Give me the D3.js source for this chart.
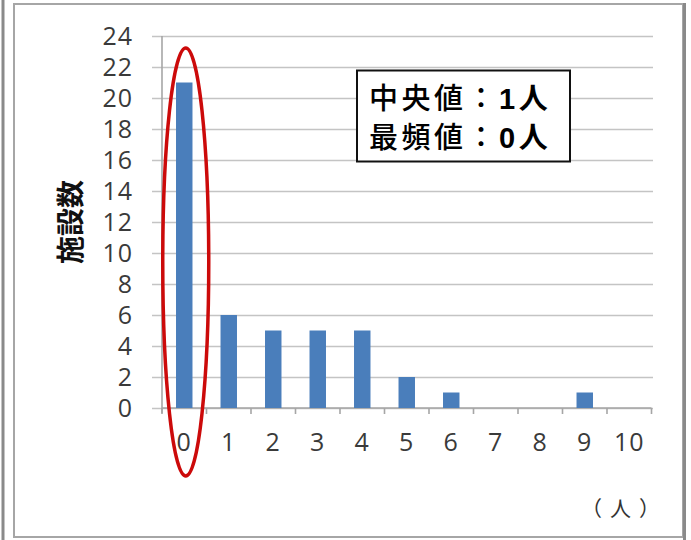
<!DOCTYPE html>
<html>
<head>
<meta charset="utf-8">
<script src="https://cdn.jsdelivr.net/npm/d3@7"></script>
<style>
  html, body { margin: 0; padding: 0; background: #fff; }
  svg { display: block; }
</style>
</head>
<body>
<svg id="chart" width="691" height="540"></svg>
<script>
// Number of staff per facility (人) and how many facilities (施設数) have that count
const categories = ["0", "1", "2", "3", "4", "5", "6", "7", "8", "9", "10"];
const facilityCounts = [21, 6, 5, 5, 5, 2, 1, 0, 0, 1, 0];
const yTicks = [0, 2, 4, 6, 8, 10, 12, 14, 16, 18, 20, 22, 24];
const yTitle = "施設数";
const xUnit = "（人）";
const summaryLines = [
  { label: "中央値：", value: "1", unit: "人" },
  { label: "最頻値：", value: "0", unit: "人" }
];
const highlighted = "0";

const svg = d3.select("#chart");
const tickFont = "'Open Sans', 'Liberation Sans', sans-serif";
const cjkFont = "'Noto Sans CJK JP', sans-serif";

// outer frame
svg.append("line").attr("x1", 3).attr("x2", 3).attr("y1", 0).attr("y2", 540)
  .attr("stroke", "#8a8a8a").attr("stroke-width", 3);
svg.append("rect").attr("x", 14).attr("y", 4).attr("width", 669).attr("height", 533)
  .attr("fill", "none").attr("stroke", "#a6a6a6").attr("stroke-width", 2);
svg.append("line").attr("x1", 684.5).attr("x2", 684.5).attr("y1", 3).attr("y2", 540)
  .attr("stroke", "#8a8a8a").attr("stroke-width", 3);

const plotLeft = 162, plotRight = 651.5, plotTop = 36, plotBottom = 408;

const x = d3.scaleBand().domain(categories).range([plotLeft, plotRight])
  .paddingInner(0.63).paddingOuter(0.315);
const y = d3.scaleLinear().domain([0, 24]).range([plotBottom, plotTop]);

// horizontal gridlines with short outer ticks on the left
const grid = svg.append("g").attr("transform", `translate(${653},0)`)
  .call(d3.axisLeft(y).tickValues(yTicks).tickSize(653 - 152).tickFormat(""));
grid.select(".domain").remove();
grid.selectAll(".tick line").attr("stroke", "#c4c4c4").attr("stroke-width", 1.6);

// y axis line and labels
const yAxis = svg.append("g").attr("transform", `translate(${plotLeft},0)`)
  .call(d3.axisLeft(y).tickValues(yTicks).tickSize(0).tickPadding(29));
yAxis.select(".domain").attr("stroke", "#a6a6a6").attr("stroke-width", 1.6)
  .attr("d", `M0,${plotTop}V${plotBottom + 5}`);
yAxis.selectAll(".tick text")
  .attr("font-family", tickFont).attr("font-size", 25).attr("letter-spacing", 1)
  .attr("fill", "#3a3a3a");

// x axis line with tick marks between categories
const step = x.step();
const boundaries = categories.map(c => x(c) - (step - x.bandwidth()) / 2)
  .concat([x(categories[categories.length - 1]) + x.bandwidth() + (step - x.bandwidth()) / 2]);
svg.append("line").attr("x1", plotLeft).attr("x2", boundaries[boundaries.length - 1])
  .attr("y1", plotBottom).attr("y2", plotBottom).attr("stroke", "#a6a6a6").attr("stroke-width", 1.6);
svg.append("g").selectAll("line").data(boundaries).join("line")
  .attr("x1", d => d).attr("x2", d => d).attr("y1", plotBottom).attr("y2", plotBottom + 6)
  .attr("stroke", "#a6a6a6").attr("stroke-width", 1.6);

const xAxis = svg.append("g").attr("transform", `translate(0,${plotBottom})`)
  .call(d3.axisBottom(x).tickSize(0).tickPadding(25));
xAxis.select(".domain").remove();
xAxis.selectAll(".tick text")
  .attr("font-family", tickFont).attr("font-size", 25).attr("letter-spacing", 1)
  .attr("fill", "#3a3a3a");

// bars
svg.append("g").selectAll("rect").data(categories).join("rect")
  .attr("x", c => x(c))
  .attr("width", x.bandwidth())
  .attr("y", (c, i) => y(facilityCounts[i]))
  .attr("height", (c, i) => y(0) - y(facilityCounts[i]))
  .attr("fill", "#4a7ebb");

// y axis title
svg.append("text")
  .attr("transform", `translate(81,222) rotate(-90)`)
  .attr("text-anchor", "middle")
  .attr("font-family", cjkFont).attr("font-weight", 700).attr("font-size", 28)
  .attr("fill", "#111").text(yTitle);

// unit label
svg.append("text").attr("x", 581).attr("y", 516)
  .attr("font-family", cjkFont).attr("font-size", 21).attr("letter-spacing", 8)
  .attr("fill", "#333")
  .text(xUnit);

// highlight around the most frequent category
svg.append("ellipse")
  .attr("cx", x(highlighted) + x.bandwidth() / 2 + 1.5)
  .attr("cy", 262).attr("rx", 23).attr("ry", 214)
  .attr("fill", "none").attr("stroke", "#cc0a0a").attr("stroke-width", 3.5);

// summary box
svg.append("rect").attr("x", 357).attr("y", 70.5).attr("width", 213).attr("height", 91)
  .attr("fill", "#fff").attr("stroke", "#111").attr("stroke-width", 2);
const summary = svg.append("text")
  .attr("font-family", cjkFont).attr("font-size", 29).attr("letter-spacing", 3.5)
  .attr("fill", "#000");
summaryLines.forEach((ln, i) => {
  summary.append("tspan").attr("x", 369).attr("y", 109 + i * 39)
    .attr("font-weight", 500).text(ln.label);
  summary.append("tspan").attr("font-weight", 700)
    .attr("font-family", "'Liberation Sans', Arial, sans-serif").text(ln.value);
  summary.append("tspan").attr("font-weight", 700).text(ln.unit);
});
</script>
</body>
</html>
